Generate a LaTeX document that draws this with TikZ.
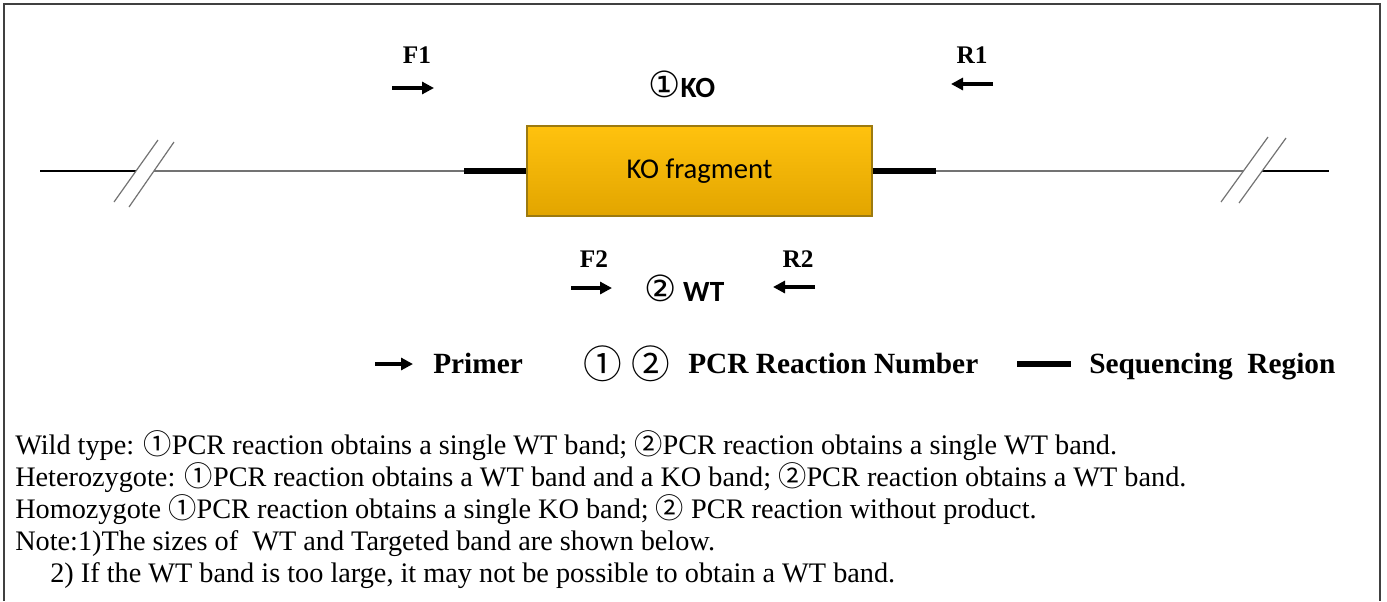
\documentclass[tikz,border=0pt]{standalone}
\usepackage{fontspec}
\setmainfont{Liberation Serif}
\newfontfamily\calibri{Carlito}
\newfontfamily\circled{DejaVu Sans}
\newfontfamily\cjkcirc{Noto Sans CJK SC}
\definecolor{FragmentTop}{HTML}{FFC20E}
\definecolor{FragmentBottom}{HTML}{E2A500}
\definecolor{FragmentBorder}{HTML}{9C7A10}
\colorlet{GenomeLine}{black!55}
\colorlet{FrameLine}{black!75}
\usetikzlibrary{arrows.meta, positioning}
\tikzset{
    primer/.style={line width=2.4pt, -{Triangle[length=9pt, width=9pt]}},
    seq region/.style={line width=4.2pt},
    break mark/.style={GenomeLine, line width=0.9pt},
    primer label/.style={font=\fontsize{19}{22}\selectfont\bfseries, inner sep=0pt},
    legend text/.style={font=\fontsize{22}{24}\selectfont\bfseries, inner sep=0pt, anchor=base west},
    legend num/.style={font=\fontsize{29}{30}\selectfont\cjkcirc, inner sep=0pt},
    body text/.style={font=\fontsize{21.2}{24}\selectfont, inner sep=0pt, anchor=base west}
}
\newcommand{\cnum}[1]{{\cjkcirc #1}}

\begin{document}
\begin{tikzpicture}[x=0.75pt, y=-0.75pt]
\useasboundingbox (0,0) rectangle (1387,601);

% Marco
\draw[FrameLine, line width=1.4pt] (4,601) -- (4,4) -- (1380,4) -- (1380,601);

\coordinate (L0) at (40,171);
\coordinate (L1) at (136,171);
\coordinate (L2) at (154,171);
\coordinate (SL) at (464,171);
\coordinate (SR) at (936,171);
\coordinate (R2) at (1243,171);
\coordinate (R3) at (1262,171);
\coordinate (R4) at (1329,171);

% Fragmento KO
\node[draw=FragmentBorder, line width=1pt, top color=FragmentTop, bottom color=FragmentBottom,
      minimum width=345*0.75pt, minimum height=90*0.75pt, inner sep=0pt,
      font=\fontsize{21.5}{24}\selectfont\calibri] (frag) at (699.5,171) {KO fragment};

% Genoma, con las marcas de corte
\draw[line width=1pt] (L0) -- (L1);
\draw[GenomeLine, line width=1.3pt] (L2) -- (SL);
\draw[GenomeLine, line width=1.3pt] (SR) -- (R2);
\draw[line width=1pt] (R3) -- (R4);
\draw[break mark] (114,202) -- (158,140);
\draw[break mark] (129,207) -- (174,142);
\draw[break mark] (1221,202) -- (1268,137);
\draw[break mark] (1239,203) -- (1286,138);

% Regiones de secuenciacion
\draw[seq region] (SL) -- (frag.west);
\draw[seq region] (frag.east) -- (SR);

% Cebadores de la reaccion 1
\node[primer label] (F1) at (417,55) {F1};
\node[primer label] (R1) at (972,55) {R1};
\coordinate (F1a) at (392,88);
\coordinate (F1b) at (434,88);
\coordinate (R1a) at (993,84);
\coordinate (R1b) at (951,84);
\draw[primer] (F1a) -- (F1b);
\draw[primer] (R1a) -- (R1b);
\node[inner sep=0pt, anchor=west] (ko) at (648,84)
    {\fontsize{27}{28}\selectfont\circled ①\fontsize{22}{24}\selectfont\calibri\bfseries KO};

% Cebadores de la reaccion 2
\node[primer label] (F2) at (594,259) {F2};
\node[primer label] (R2lab) at (798,259) {R2};
\coordinate (F2a) at (571,288);
\coordinate (F2b) at (612,288);
\coordinate (R2a) at (815,287);
\coordinate (R2b) at (773,287);
\draw[primer] (F2a) -- (F2b);
\draw[primer] (R2a) -- (R2b);
\node[inner sep=0pt, anchor=west] (wt) at (644,288)
    {\fontsize{27}{28}\selectfont\circled ②\fontsize{22}{24}\selectfont\calibri\bfseries\ WT};

% Leyenda
\coordinate (Pa) at (375,364);
\coordinate (Pb) at (413,364);
\draw[primer] (Pa) -- (Pb);
\node[legend text] (primer) at (433,373) {Primer};
\node[legend num] (c1) at (603,364) {①};
\node[legend num] (c2) at (651,364) {②};
\node[legend text] (pcr) at (688,373) {PCR Reaction Number};
\coordinate (Sa) at (1017,364);
\coordinate (Sb) at (1071,364);
\draw[seq region] (Sa) -- (Sb);
\node[legend text] (seq) at (1089,373) {Sequencing\ \ Region};

% Texto
\node[body text] (wild) at (15,454)
    {Wild type: \cnum{①}PCR reaction obtains a single WT band; \cnum{②}PCR reaction obtains a single WT band.};
\node[body text] (hetero) at (15,486)
    {Heterozygote: \cnum{①}PCR reaction obtains a WT band and a KO band; \cnum{②}PCR reaction obtains a WT band.};
\node[body text] (homo) at (15,518)
    {Homozygote \cnum{①}PCR reaction obtains a single KO band; \cnum{②} PCR reaction without product.};
\node[body text] (note1) at (15,550)
    {Note:1)The sizes of\ \ WT and Targeted band are shown below.};
\node[body text] (note2) at (50,582)
    {2) If the WT band is too large, it may not be possible to obtain a WT band.};

\end{tikzpicture}
\end{document}
